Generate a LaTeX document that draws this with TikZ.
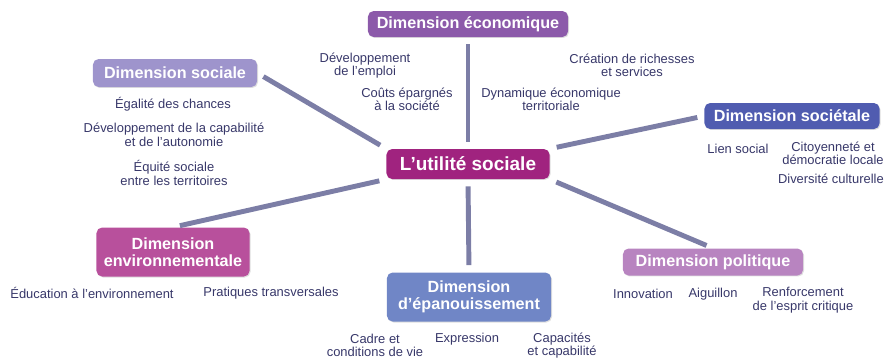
\documentclass[tikz,border=0pt]{standalone}
\usepackage{fontspec}
\setmainfont{Liberation Sans}
\definecolor{usMagenta}{RGB}{160,35,127}
\definecolor{usEco}{RGB}{140,90,170}
\definecolor{usSociale}{RGB}{158,148,204}
\definecolor{usSocietale}{RGB}{80,92,176}
\definecolor{usEnv}{RGB}{184,80,156}
\definecolor{usEpan}{RGB}{112,134,198}
\definecolor{usPol}{RGB}{184,132,192}
\definecolor{usLine}{RGB}{124,126,166}
\definecolor{usText}{RGB}{55,55,105}
\usetikzlibrary{shadows}
\tikzset{
    every node/.append style={align=center},
    dimbox/.style={rectangle,rounded corners=4pt,text=white,inner sep=0pt,font=\fontsize{11.5}{12.5}\selectfont\bfseries,drop shadow={opacity=0.25,shadow xshift=0.7pt,shadow yshift=-0.7pt}},
    item/.style={inner sep=0pt,text=usText,font=\fontsize{9.2}{9.6}\selectfont},
    spoke/.style={line width=3.5pt,usLine,shorten >=5pt,shorten <=5pt},
}

\begin{document}
\begin{tikzpicture}[x=0.025cm,y=-0.025cm]
        \useasboundingbox (0,0) rectangle (885,358);

        % centre and dimensions
        \node[dimbox,fill=usMagenta,minimum width=4.075cm,minimum height=0.75cm,font=\fontsize{13.5}{14}\selectfont\bfseries] (util) at (468,164) {L'utilité sociale};
        \node[dimbox,fill=usEco,minimum width=5cm,minimum height=0.65cm] (eco) at (468,24) {Dimension économique};
        \node[dimbox,fill=usSociale,minimum width=4.1cm,minimum height=0.7cm] (soc) at (175,73) {Dimension sociale};
        \node[dimbox,fill=usSocietale,minimum width=4.375cm,minimum height=0.65cm] (sct) at (792,116) {Dimension sociétale};
        \node[dimbox,fill=usEnv,minimum width=3.825cm,minimum height=1.225cm] (env) at (173,252) {Dimension\\environnementale};
        \node[dimbox,fill=usEpan,minimum width=4.1cm,minimum height=1.225cm] (epa) at (469,297) {Dimension\\d'épanouissement};
        \node[dimbox,fill=usPol,minimum width=4.5cm,minimum height=0.675cm] (pol) at (713,262) {Dimension politique};

        \draw[spoke] (util.north) -- (eco.south);
        \draw[spoke] (util.north west) -- (soc.east);
        \draw[spoke] (util.north east) -- (sct.west);
        \draw[spoke] (util.south west) -- (env.north);
        \draw[spoke] (util.south) -- (epa.north);
        \draw[spoke] (util.south east) -- (pol.north);

        % economique
        \node[item] (eco1) at (365,65.5) {Développement\\de l'emploi};
        \node[item] (eco2) at (407,99.5) {Coûts épargnés\\à la société};
        \node[item] (eco3) at (632,65.5) {Création de richesses\\et services};
        \node[item] (eco4) at (551,99.5) {Dynamique économique\\territoriale};

        % sociale
        \node[item] (soc1) at (173,104) {Égalité des chances};
        \node[item] (soc2) at (174,135) {Développement de la capabilité\\et de l'autonomie};
        \node[item] (soc3) at (174,173) {Équité sociale\\entre les territoires};

        % societale
        \node[item] (sct1) at (738,149) {Lien social};
        \node[item] (sct2) at (833,153.5) {Citoyenneté et\\démocratie locale};
        \node[item,anchor=east] (sct3) at (884,179) {Diversité culturelle};

        % environnementale
        \node[item] (env1) at (92,293) {Éducation à l'environnement};
        \node[item] (env2) at (271,293) {Pratiques transversales};

        % epanouissement
        \node[item] (epa1) at (375,345.5) {Cadre et\\conditions de vie};
        \node[item] (epa2) at (467,339) {Expression};
        \node[item] (epa3) at (562,345.5) {Capacités\\et capabilité};

        % politique
        \node[item] (pol1) at (643,294) {Innovation};
        \node[item] (pol2) at (713,294) {Aiguillon};
        \node[item] (pol3) at (803,300) {Renforcement\\de l'esprit critique};
\end{tikzpicture}
\end{document}
